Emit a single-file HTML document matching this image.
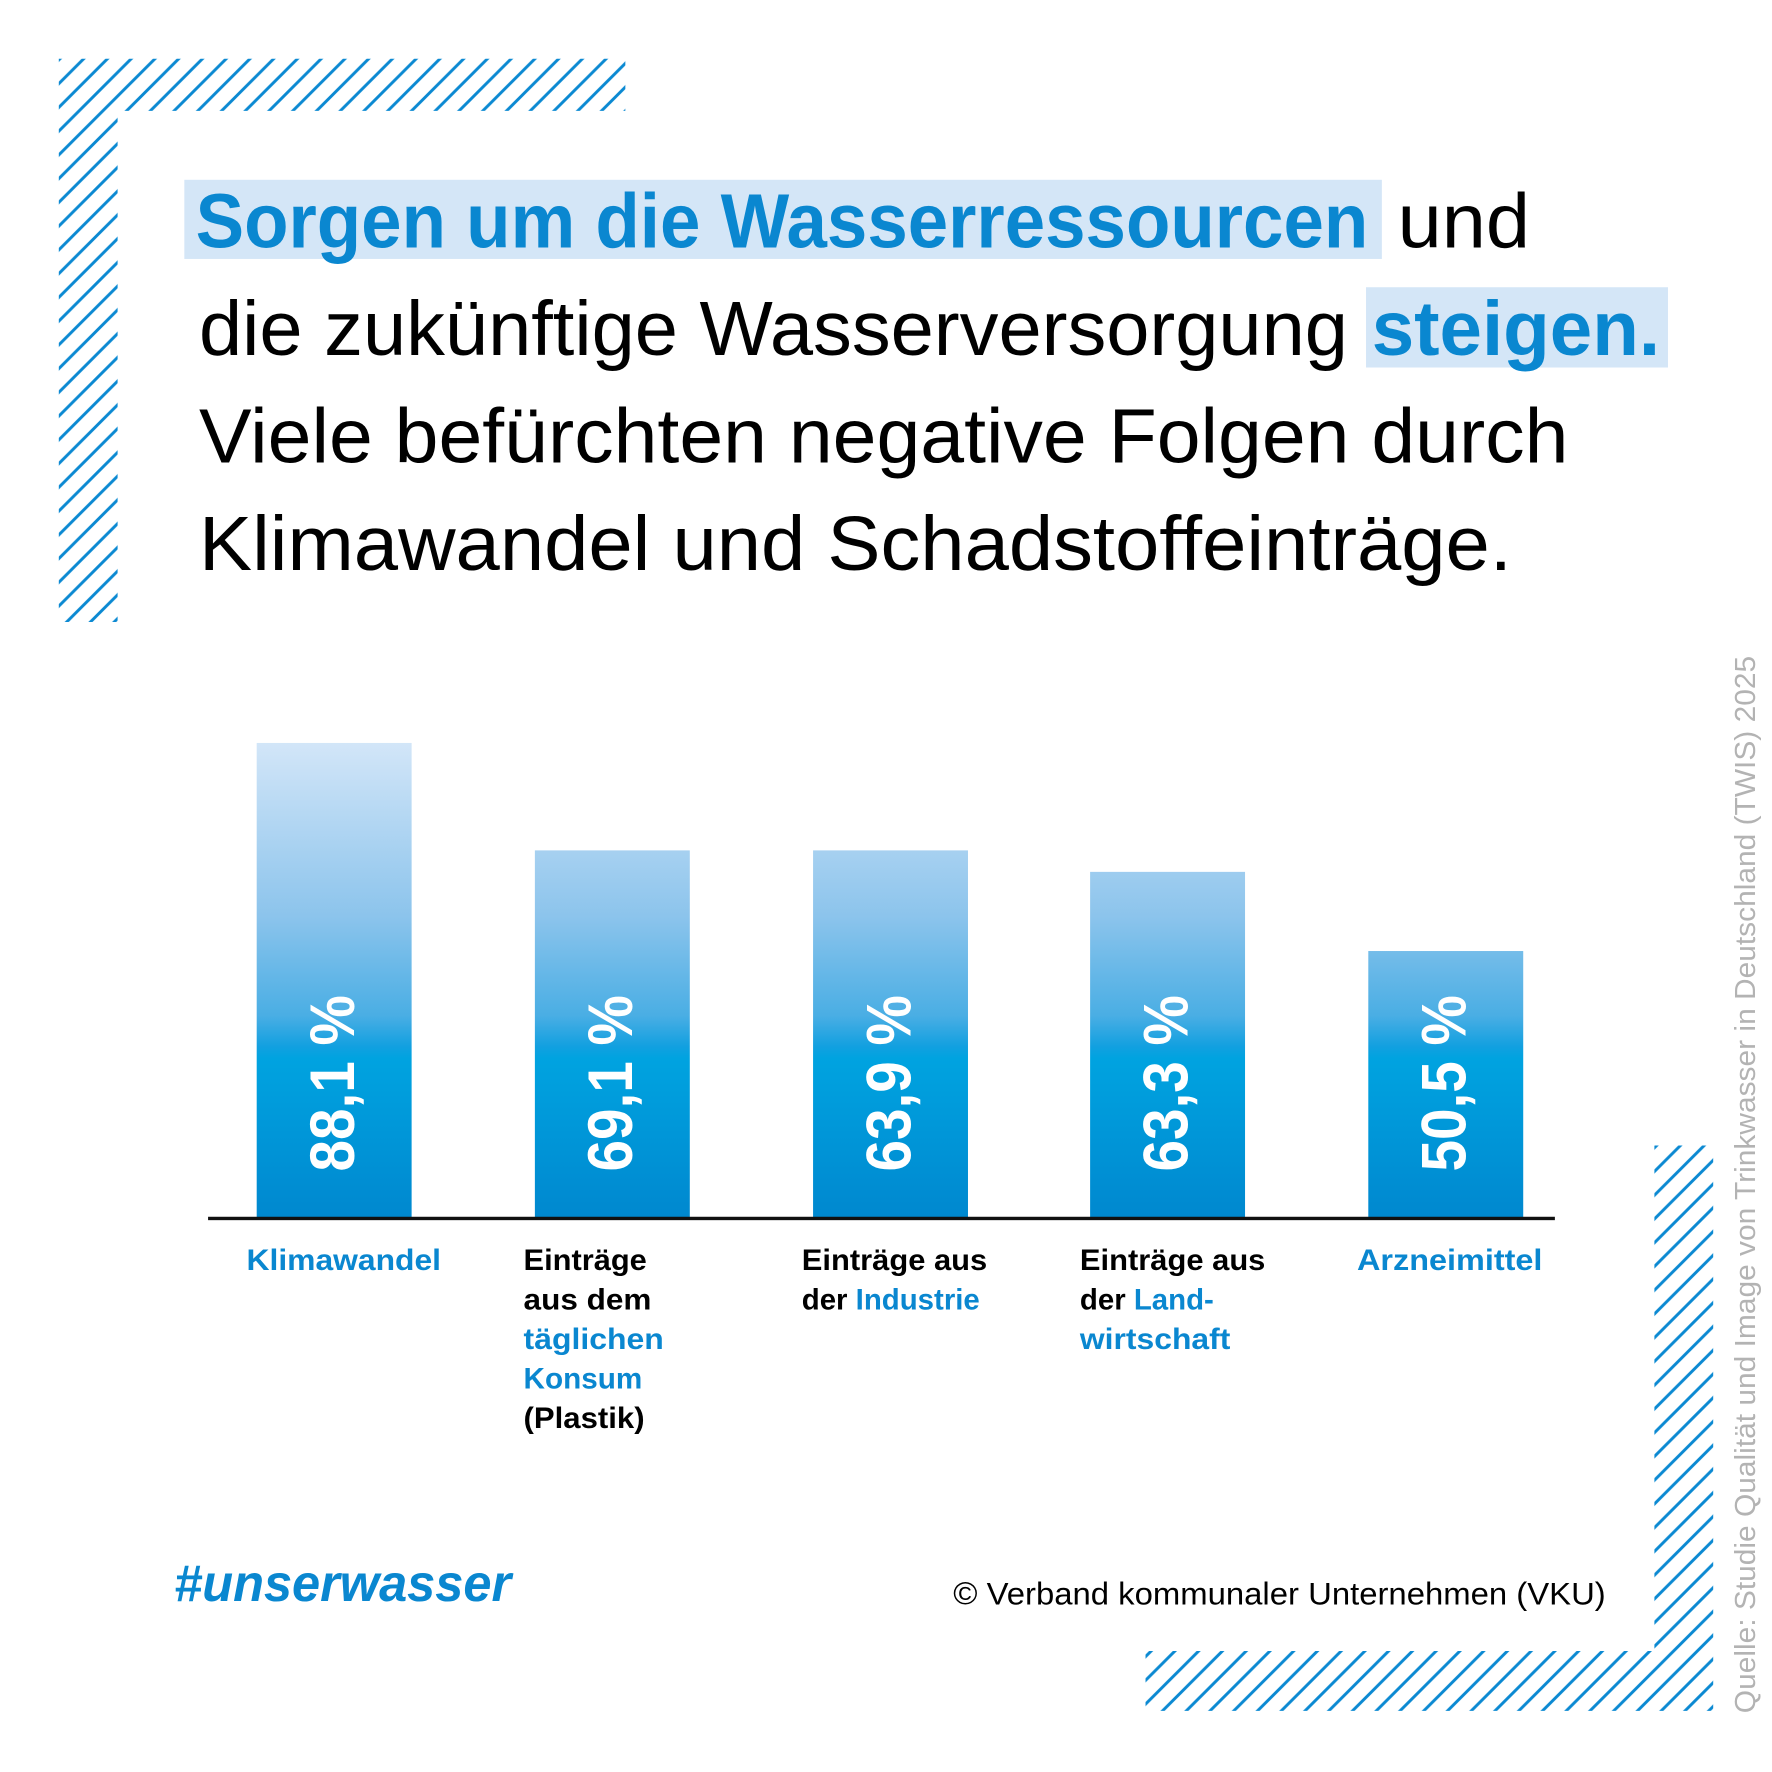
<!DOCTYPE html>
<html><head><meta charset="utf-8"><style>
html,body{margin:0;padding:0;background:#fff;width:1772px;height:1772px;overflow:hidden}
svg{display:block}
text{font-family:"Liberation Sans",sans-serif}
</style></head><body>
<svg width="1772" height="1772" viewBox="0 0 1567 1567" xmlns="http://www.w3.org/2000/svg">
<defs>
<pattern id="h" patternUnits="userSpaceOnUse" width="21" height="21">
<path d="M-2,23 L23,-2 M-12,12 L12,-12 M9,33 L33,9" stroke="#0b89d2" stroke-width="2.6" fill="none"/>
</pattern>
<linearGradient id="g" gradientUnits="userSpaceOnUse" x1="0" y1="656" x2="0" y2="1077">
<stop offset="0" stop-color="#d3e6f8"/>
<stop offset="0.366" stop-color="#8cc4ec"/>
<stop offset="0.575" stop-color="#4aaee4"/>
<stop offset="0.64" stop-color="#12a0e0"/>
<stop offset="0.665" stop-color="#00a3e0"/>
<stop offset="1" stop-color="#0088cf"/>
</linearGradient>
</defs>
<rect width="1567" height="1567" fill="#fff"/>
<path d="M52,52 H553 V98 H104 V550 H52 Z" fill="url(#h)"/>
<path d="M1463,1013 H1515 V1513 H1013 V1460 H1463 Z" fill="url(#h)"/>

<rect x="163" y="159" width="1059" height="70" fill="#d4e6f7"/>
<rect x="1208" y="254" width="267" height="71" fill="#d4e6f7"/>
<g font-size="68">
<text x="173" y="219" font-weight="bold" fill="#0a87d0" textLength="1037" lengthAdjust="spacingAndGlyphs">Sorgen um die Wasserressourcen</text>
<text x="1236" y="219" fill="#000" textLength="117" lengthAdjust="spacingAndGlyphs">und</text>
<text x="176" y="314" fill="#000" textLength="1016" lengthAdjust="spacingAndGlyphs">die zukünftige Wasserversorgung</text>
<text x="1213" y="314" font-weight="bold" fill="#0a87d0" textLength="255" lengthAdjust="spacingAndGlyphs">steigen.</text>
<text x="176" y="409" fill="#000" textLength="1211" lengthAdjust="spacingAndGlyphs">Viele befürchten negative Folgen durch</text>
<text x="176" y="504" fill="#000" textLength="1161" lengthAdjust="spacingAndGlyphs">Klimawandel und Schadstoffeinträge.</text>
</g>

<rect x="227" y="657" width="137" height="420" fill="url(#g)"/>
<rect x="473" y="752" width="137" height="325" fill="url(#g)"/>
<rect x="719" y="752" width="137" height="325" fill="url(#g)"/>
<rect x="964" y="771" width="137" height="306" fill="url(#g)"/>
<rect x="1210" y="841" width="137" height="236" fill="url(#g)"/>
<rect x="184" y="1076" width="1191" height="3" fill="#111"/>

<g font-size="56" font-weight="bold" fill="#fff">
<text transform="translate(313,1036) rotate(-90)" textLength="156" lengthAdjust="spacingAndGlyphs">88,1 %</text>
<text transform="translate(559,1036) rotate(-90)" textLength="156" lengthAdjust="spacingAndGlyphs">69,1 %</text>
<text transform="translate(805,1036) rotate(-90)" textLength="156" lengthAdjust="spacingAndGlyphs">63,9 %</text>
<text transform="translate(1050,1036) rotate(-90)" textLength="156" lengthAdjust="spacingAndGlyphs">63,3 %</text>
<text transform="translate(1296,1036) rotate(-90)" textLength="156" lengthAdjust="spacingAndGlyphs">50,5 %</text>
</g>

<g font-size="26" font-weight="bold">
<text x="218" y="1123" fill="#0a87d0" textLength="172" lengthAdjust="spacingAndGlyphs">Klimawandel</text>
<text x="463" y="1123" fill="#000" textLength="109" lengthAdjust="spacingAndGlyphs">Einträge</text>
<text x="463" y="1158" fill="#000" textLength="113" lengthAdjust="spacingAndGlyphs">aus dem</text>
<text x="463" y="1193" fill="#0a87d0" textLength="124" lengthAdjust="spacingAndGlyphs">täglichen</text>
<text x="463" y="1228" fill="#0a87d0" textLength="105" lengthAdjust="spacingAndGlyphs">Konsum</text>
<text x="463" y="1263" fill="#000" textLength="107" lengthAdjust="spacingAndGlyphs">(Plastik)</text>
<text x="709" y="1123" fill="#000" textLength="164" lengthAdjust="spacingAndGlyphs">Einträge aus</text>
<text x="709" y="1158"><tspan fill="#000">der </tspan><tspan fill="#0a87d0">Industrie</tspan></text>
<text x="955" y="1123" fill="#000" textLength="164" lengthAdjust="spacingAndGlyphs">Einträge aus</text>
<text x="955" y="1158"><tspan fill="#000">der </tspan><tspan fill="#0a87d0">Land-</tspan></text>
<text x="955" y="1193" fill="#0a87d0" textLength="133" lengthAdjust="spacingAndGlyphs">wirtschaft</text>
<text x="1200" y="1123" fill="#0a87d0" textLength="164" lengthAdjust="spacingAndGlyphs">Arzneimittel</text>
</g>

<text x="154" y="1416" font-size="46" font-weight="bold" font-style="italic" fill="#0a87d0" textLength="298" lengthAdjust="spacingAndGlyphs">#unserwasser</text>
<text x="843" y="1419" font-size="28" fill="#000" textLength="577" lengthAdjust="spacingAndGlyphs">© Verband kommunaler Unternehmen (VKU)</text>
<text transform="translate(1552,1515) rotate(-90)" font-size="25" fill="#b3b3b3" textLength="935" lengthAdjust="spacingAndGlyphs">Quelle: Studie Qualität und Image von Trinkwasser in Deutschland (TWIS) 2025</text>
</svg>
</body></html>
